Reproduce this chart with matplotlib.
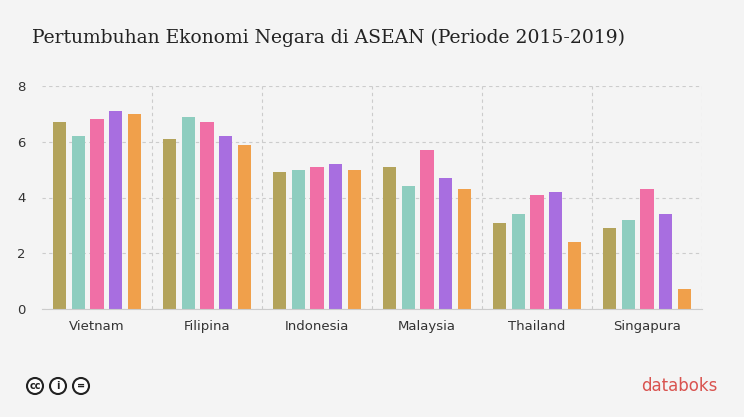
import matplotlib
matplotlib.use("Agg")
import matplotlib.pyplot as plt
from matplotlib.patches import Ellipse
import numpy as np

countries = ["Vietnam", "Filipina", "Indonesia", "Malaysia", "Thailand", "Singapura"]
years = ["2015", "2016", "2017", "2018", "2019"]
values = [
    [6.7, 6.2, 6.8, 7.1, 7.0],
    [6.1, 6.9, 6.7, 6.2, 5.9],
    [4.9, 5.0, 5.1, 5.2, 5.0],
    [5.1, 4.4, 5.7, 4.7, 4.3],
    [3.1, 3.4, 4.1, 4.2, 2.4],
    [2.9, 3.2, 4.3, 3.4, 0.7],
]
colors = ["#b3a35b", "#8ecdbf", "#f06fa6", "#a86ee0", "#f0a04b"]
bg = "#f4f4f4"

fig = plt.figure(figsize=(7.44, 4.17), dpi=100, facecolor=bg)
ax = fig.add_axes([42 / 744, 1 - 309 / 417, 660 / 744, 223 / 417], facecolor=bg)

data = np.array(values)
x = np.arange(len(countries))
w = 0.17
for i, yr in enumerate(years):
    ax.bar(x + (i - 2) * w, data[:, i], width=w * 0.72, color=colors[i], label=yr)

ax.set_xlim(-0.5, len(countries) - 0.5)
ax.set_ylim(0, 8)
ax.set_yticks([0, 2, 4, 6, 8])
ax.set_xticks(x)
ax.set_xticklabels(countries)
for xv in np.arange(0.5, len(countries), 1):
    ax.axvline(xv, color="#cccccc", ls=(0, (3, 3)), lw=0.8, zorder=0)
ax.yaxis.grid(True, color="#cccccc", ls=(0, (3, 3)), lw=0.8)
ax.set_axisbelow(True)
for s in ["top", "right", "left"]:
    ax.spines[s].set_visible(False)
ax.spines["bottom"].set_color("#cccccc")
ax.tick_params(axis="both", length=0, colors="#333333", labelsize=9.5)
ax.tick_params(axis="x", pad=8)
ax.tick_params(axis="y", pad=12)

fig.text(32 / 744, 1 - 38 / 417, "Pertumbuhan Ekonomi Negara di ASEAN (Periode 2015-2019)",
         family="DejaVu Serif", fontsize=13.5, color="#222222", va="center")

# licence icons in the footer
for cx, sym in [(35, "cc"), (58, "i"), (81, "=")]:
    fig.patches.append(Ellipse((cx / 744, 1 - 386 / 417), 16 / 744, 16 / 417,
                               transform=fig.transFigure, fc="white", ec="#222222", lw=1.5))
    fig.text(cx / 744, 1 - 386 / 417, sym, fontsize=7, weight="bold", color="#222222",
             ha="center", va="center")
fig.text(718 / 744, 1 - 386 / 417, "databoks", fontsize=12, color="#d9534f", ha="right", va="center")

fig.savefig("out.png", dpi=100, facecolor=bg)
